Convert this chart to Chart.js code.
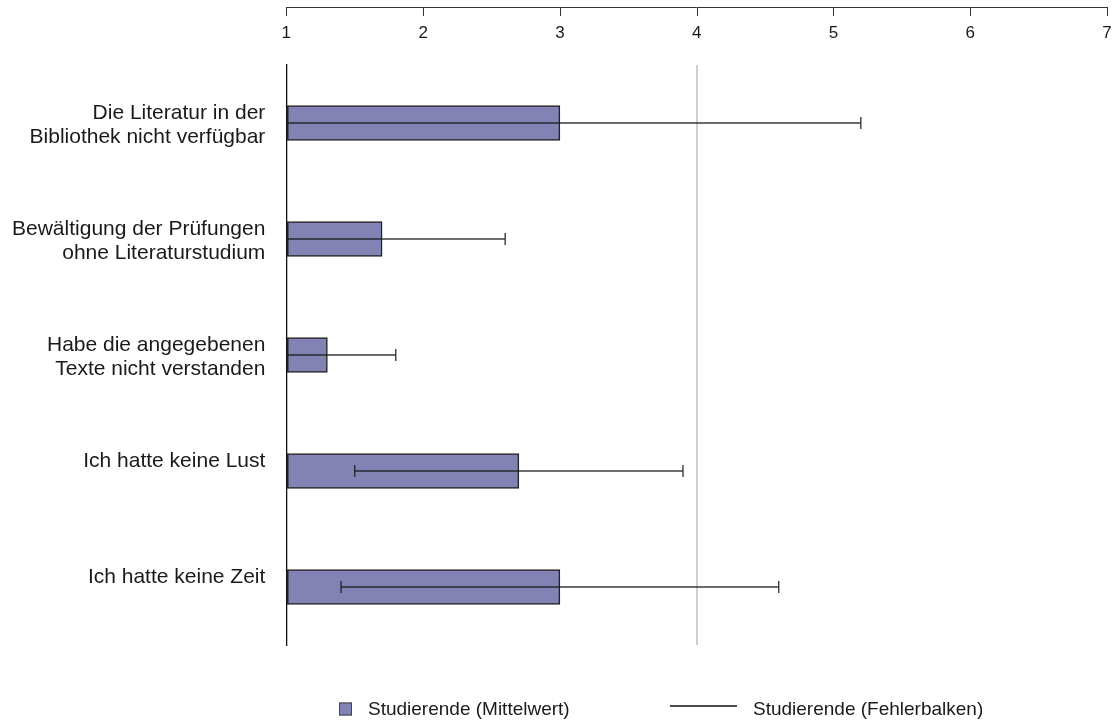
<!DOCTYPE html>
<html>
<head>
<meta charset="utf-8">
<script src="https://cdn.jsdelivr.net/npm/chart.js@4.4.0/dist/chart.umd.min.js"></script>
<style>
  html, body { margin: 0; padding: 0; background: #fff; }
  #wrap { width: 1120px; height: 721px; position: relative; }
</style>
</head>
<body>
<div id="wrap"><canvas id="myChart"></canvas></div>
<script>
// Kategorien (y-Achse), leere zweite Zeile damit einzeilige Labels oben sitzen
var kategorien = [
  ['Die Literatur in der', 'Bibliothek nicht verfügbar'],
  ['Bewältigung der Prüfungen', 'ohne Literaturstudium'],
  ['Habe die angegebenen', 'Texte nicht verstanden'],
  ['Ich hatte keine Lust', ''],
  ['Ich hatte keine Zeit', '']
];
var mittelwert = [3.0, 1.7, 1.3, 2.7, 3.0];
var fehler = [2.2, 0.9, 0.5, 1.2, 1.6];
var skalaTicks = [1, 2, 3, 4, 5, 6, 7];
var referenzWert = 4;
var legendeTexte = ['Studierende (Mittelwert)', 'Studierende (Fehlerbalken)'];

var balkenFarbe = '#8282b4';
var schrift = "'Liberation Sans', Arial, sans-serif";

Chart.defaults.font.family = schrift;
Chart.defaults.color = '#1a1a1a';

// Fehlerbalken (links unter 1 abgeschnitten, dann ohne Kappe)
var fehlerbalken = {
  id: 'fehlerbalken',
  afterDatasetsDraw: function(chart) {
    var ctx = chart.ctx, xs = chart.scales.x, meta = chart.getDatasetMeta(0);
    ctx.save();
    ctx.strokeStyle = 'rgba(25,25,25,0.85)';
    ctx.lineWidth = 1.4;
    mittelwert.forEach(function(m, i) {
      var y = meta.data[i].y;
      var lo = m - fehler[i], hi = m + fehler[i];
      var x1 = xs.getPixelForValue(Math.max(lo, xs.min));
      var x2 = xs.getPixelForValue(Math.min(hi, xs.max));
      ctx.beginPath();
      ctx.moveTo(x1, y); ctx.lineTo(x2, y);
      if (lo >= xs.min) { ctx.moveTo(x1, y - 6); ctx.lineTo(x1, y + 6); }
      if (hi <= xs.max) { ctx.moveTo(x2, y - 6); ctx.lineTo(x2, y + 6); }
      ctx.stroke();
    });
    ctx.restore();
  }
};

// obere Achsenlinie mit Ticks nach innen
var obereAchse = {
  id: 'obereAchse',
  afterDraw: function(chart) {
    var ctx = chart.ctx, xs = chart.scales.x;
    var y = chart.chartArea.top - 58;
    ctx.save();
    ctx.strokeStyle = '#333';
    ctx.lineWidth = 1;
    ctx.beginPath();
    ctx.moveTo(xs.getPixelForValue(skalaTicks[0]), y + 0.5);
    ctx.lineTo(xs.getPixelForValue(skalaTicks[skalaTicks.length - 1]), y + 0.5);
    skalaTicks.forEach(function(v) {
      var x = Math.round(xs.getPixelForValue(v)) + 0.5;
      ctx.moveTo(x, y);
      ctx.lineTo(x, y + 9);
    });
    ctx.stroke();
    ctx.restore();
  }
};

// Legende unten
var legende = {
  id: 'legende',
  afterDraw: function(chart) {
    var ctx = chart.ctx;
    var y = chart.chartArea.bottom + 64;
    ctx.save();
    ctx.fillStyle = balkenFarbe;
    ctx.fillRect(339, y - 6.5, 13, 13);
    ctx.strokeStyle = '#444';
    ctx.lineWidth = 1;
    ctx.strokeRect(339.5, y - 6, 12, 12);
    ctx.strokeStyle = '#111';
    ctx.lineWidth = 1.5;
    ctx.beginPath();
    ctx.moveTo(670, y - 3); ctx.lineTo(737, y - 3);
    ctx.stroke();
    ctx.fillStyle = '#1a1a1a';
    ctx.font = '19px ' + schrift;
    ctx.textBaseline = 'middle';
    ctx.textAlign = 'left';
    ctx.fillText(legendeTexte[0], 368, y + 1);
    ctx.fillText(legendeTexte[1], 753, y + 1);
    ctx.restore();
  }
};

var ctx = document.getElementById('myChart');
var myChart = new Chart(ctx, {
  type: 'bar',
  data: {
    labels: kategorien,
    datasets: [{
      label: legendeTexte[0],
      data: mittelwert,
      base: 1,
      backgroundColor: balkenFarbe,
      borderColor: '#222',
      borderWidth: 1.5,
      borderSkipped: false,
      barThickness: 35
    }]
  },
  options: {
    indexAxis: 'y',
    responsive: true,
    maintainAspectRatio: false,
    animation: false,
    layout: { padding: { left: 12, right: 13, top: 1, bottom: 76 } },
    plugins: {
      legend: { display: false },
      tooltip: { enabled: false }
    },
    scales: {
      x: {
        position: 'top',
        min: 1,
        max: 7,
        afterBuildTicks: function(s) {
          s.ticks = skalaTicks.map(function(v) { return { value: v }; });
        },
        border: { display: false },
        grid: {
          drawTicks: false,
          lineWidth: 2,
          color: function(c) {
            return c.tick && c.tick.value === referenzWert ? '#cfcfcf' : 'rgba(0,0,0,0)';
          }
        },
        ticks: { padding: 0, font: { size: 17, lineHeight: '64px' }, maxRotation: 0 }
      },
      y: {
        border: { display: true, color: '#111', width: 1.3 },
        grid: { display: false, drawTicks: false },
        afterFit: function(s) { s.width -= s.options.ticks.padding; },
        ticks: { padding: 21, labelOffset: 2.5, font: { size: 21, lineHeight: 1.143 } }
      }
    }
  },
  plugins: [fehlerbalken, obereAchse, legende]
});
</script>
</body>
</html>
